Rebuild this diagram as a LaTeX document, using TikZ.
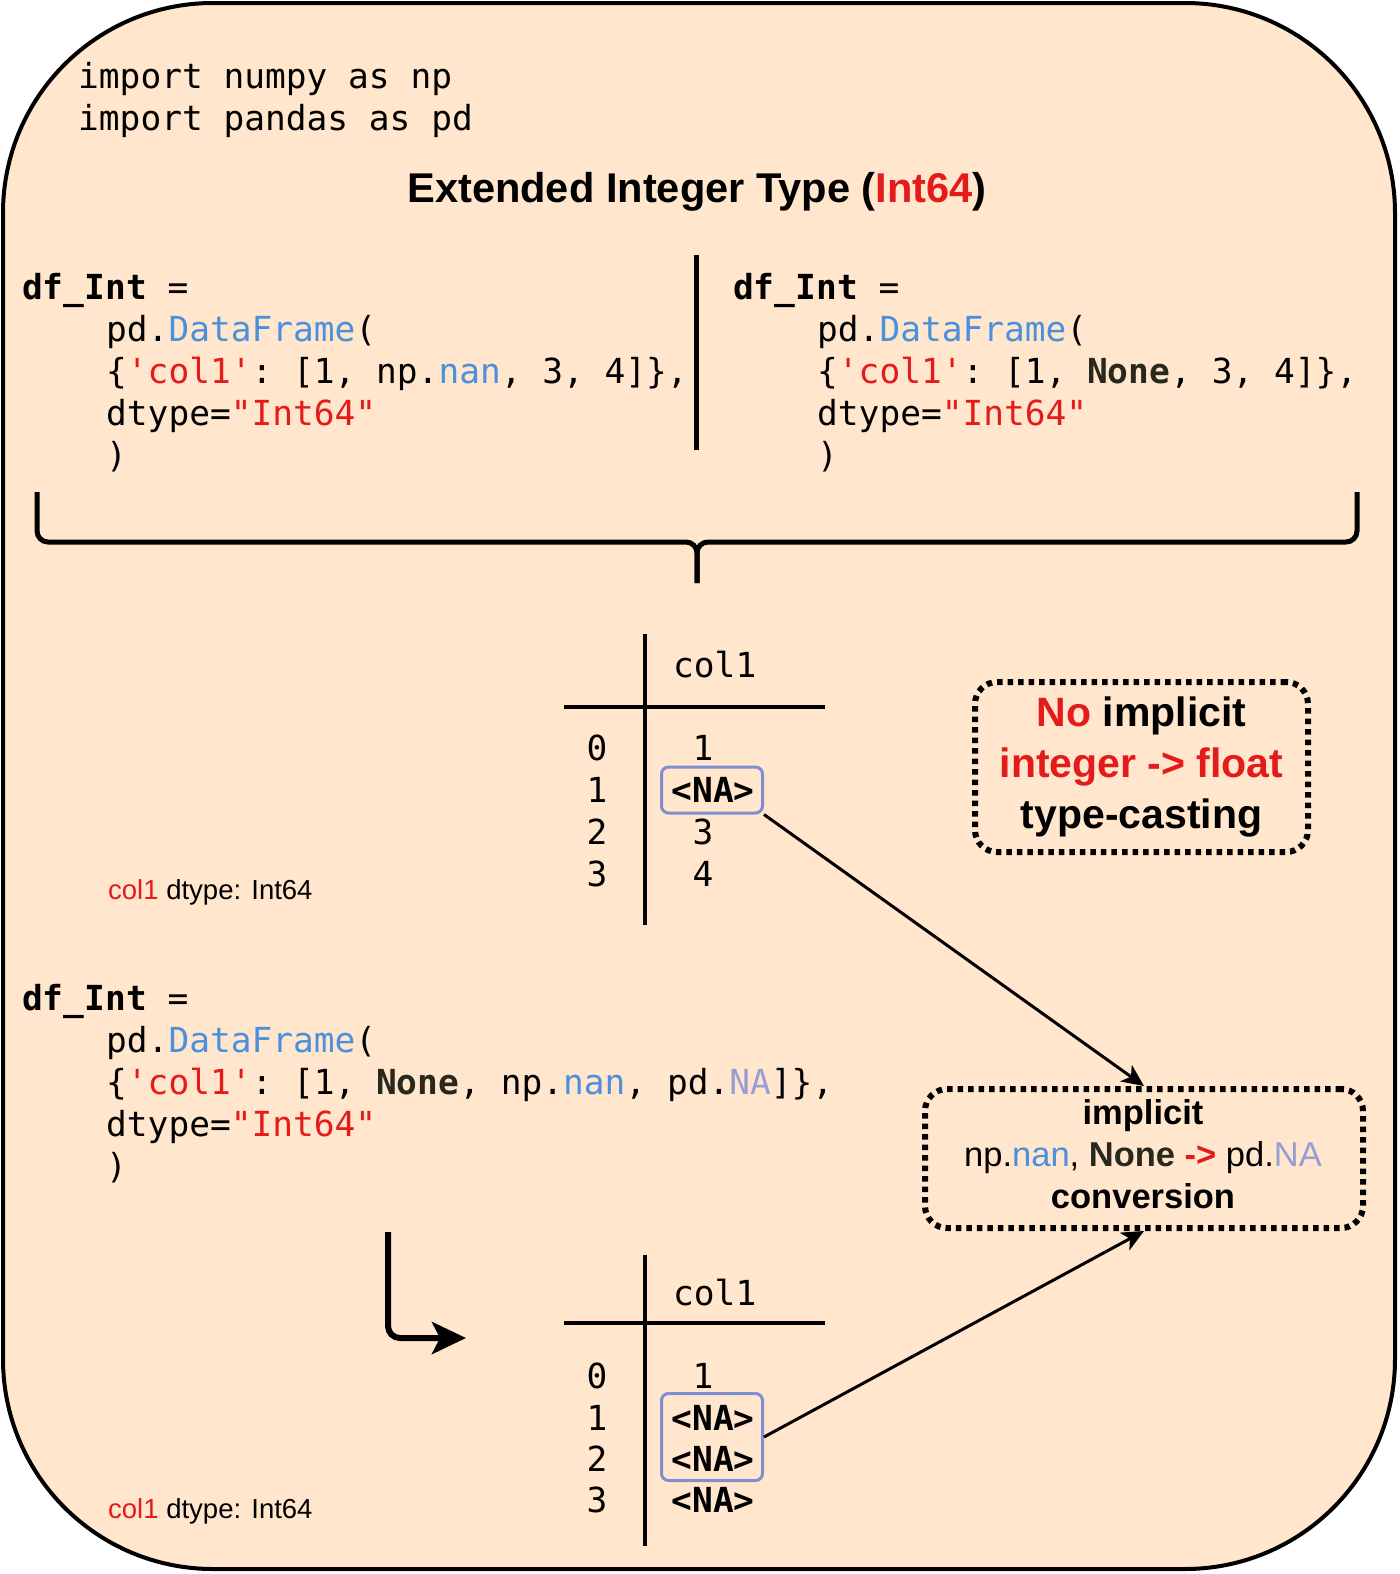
\documentclass[tikz,border=0pt]{standalone}
\usepackage{fontspec}
\setmainfont{Liberation Sans}
\setsansfont{Liberation Sans}
\setmonofont{DejaVu Sans Mono}
\usetikzlibrary{arrows.meta}
\definecolor{bgpeach}{RGB}{255,230,204}
\definecolor{cred}{RGB}{228,27,27}
\definecolor{cblue}{RGB}{74,144,220}
\definecolor{clav}{RGB}{150,158,212}
\definecolor{cnone}{RGB}{40,40,30}
\definecolor{nabord}{RGB}{128,142,210}
\newcommand\codefnt{\fontsize{34.5}{42}\selectfont\ttfamily}
\newcommand\titlefnt{\fontsize{41.6}{50}\selectfont\bfseries}
\newcommand\notefnt{\fontsize{41}{51}\selectfont\bfseries}
\newcommand\convfnt{\fontsize{34.5}{42}\selectfont}
\newcommand\dtfnt{\fontsize{27.5}{33}\selectfont}
\begin{document}
\begin{tikzpicture}[x=1pt,y=-1pt,
  code/.style={anchor=base west, inner sep=0pt, font=\codefnt},
  tcell/.style={anchor=base, inner sep=0pt, font=\codefnt},
  nacell/.style={anchor=base, inner sep=0pt, font=\codefnt\bfseries},
  nabox/.style={draw=nabord, line width=3pt, rounded corners=7pt, inner sep=0pt},
  dotbox/.style={draw=black, line width=6pt, dash pattern=on 5.5pt off 5pt, rounded corners=22pt, inner sep=0pt},
  tline/.style={line width=3.5pt},
  link/.style={line width=3pt, -{Stealth[length=22pt,width=20pt,inset=6pt]}},
  dtlabel/.style={anchor=base west, inner sep=0pt, font=\dtfnt}
]
\useasboundingbox (0,0) rectangle (1400,1574);
\draw[line width=4pt, fill=bgpeach, rounded corners=210pt] (3,3) rectangle (1395,1569);

% imports
\node[code] (imp1) at (78,88) {import numpy as np};
\node[code] (imp2) at (78,130) {import pandas as pd};

% title
\node[anchor=base, inner sep=0pt, font=\titlefnt] (title) at (697,202) {Extended Integer Type (\textcolor{cred}{Int64})};

% left code
\node[code] (l1) at (22,299) {\textbf{df\_Int} =};
\node[code] (l2) at (106,341) {pd.\textcolor{cblue}{DataFrame}(};
\node[code] (l3) at (106,383) {\{\textcolor{cred}{'col1'}: [1, np.\textcolor{cblue}{nan}, 3, 4]\},};
\node[code] (l4) at (106,425) {dtype=\textcolor{cred}{"Int64"}};
\node[code] (l5) at (106,467) {)};

% divider
\draw[line width=5pt] (696,255) -- (696,450);

% right code
\node[code] (r1) at (733,299) {\textbf{df\_Int} =};
\node[code] (r2) at (817,341) {pd.\textcolor{cblue}{DataFrame}(};
\node[code] (r3) at (817,383) {\{\textcolor{cred}{'col1'}: [1, \textbf{\textcolor{cnone}{None}}, 3, 4]\},};
\node[code] (r4) at (817,425) {dtype=\textcolor{cred}{"Int64"}};
\node[code] (r5) at (817,467) {)};

% brace
\draw[line width=5pt, rounded corners=11pt] (37,492) -- (37,542) -- (697,542) -- (697,583);
\draw[line width=5pt, rounded corners=11pt] (1357,492) -- (1357,542) -- (697,542) -- (697,583);

% table 1
\draw[tline] (645,634) -- (645,925);
\draw[tline] (564,707) -- (825,707);
\node[code] (h1) at (673,677) {col1};
\node[tcell] (i10) at (597,760) {0};
\node[tcell] (i11) at (597,802) {1};
\node[tcell] (i12) at (597,844) {2};
\node[tcell] (i13) at (597,886) {3};
\node[tcell] (v10) at (703,760) {1};
\node[nabox, minimum width=101pt, minimum height=46pt] (na1box) at (712,790) {};
\node[nacell] (v11) at (713,802) {<NA>};
\node[tcell] (v12) at (703,844) {3};
\node[tcell] (v13) at (703,886) {4};
\node[dtlabel] (dt1) at (108,899) {\textcolor{cred}{col1} dtype: Int64};

% note box
\node[dotbox, minimum width=333pt, minimum height=170pt, align=center, font=\notefnt] (nocast) at (1141.5,767)
  {\textcolor{cred}{No} implicit\\\textcolor{cred}{integer -> float}\\type-casting};

% bottom code
\node[code] (b1) at (22,1010) {\textbf{df\_Int} =};
\node[code] (b2) at (106,1052) {pd.\textcolor{cblue}{DataFrame}(};
\node[code] (b3) at (106,1094) {\{\textcolor{cred}{'col1'}: [1, \textbf{\textcolor{cnone}{None}}, np.\textcolor{cblue}{nan}, pd.\textcolor{clav}{NA}]\},};
\node[code] (b4) at (106,1136) {dtype=\textcolor{cred}{"Int64"}};
\node[code] (b5) at (106,1178) {)};

% conversion box
\node[dotbox, minimum width=438pt, minimum height=139pt] (conv) at (1144,1158.5) {};
\node[align=center, inner sep=0pt, font=\convfnt] (convtext) at (1143,1154.5)
  {\textbf{implicit}\\np.\textcolor{cblue}{nan}, \textbf{\textcolor{cnone}{None}} \textbf{\textcolor{cred}{->}} pd.\textcolor{clav}{NA}\\\textbf{conversion}};

% L arrow
\coordinate (lstart) at (388,1232);
\coordinate (lend) at (466,1338);
\draw[line width=6pt, rounded corners=12pt, -{Stealth[length=34pt,width=32pt,inset=8pt]}] (lstart) |- (lend);

% table 2
\draw[tline] (645,1255) -- (645,1546);
\draw[tline] (564,1323) -- (825,1323);
\node[code] (h2) at (673,1305) {col1};
\node[tcell] (i20) at (597,1388) {0};
\node[tcell] (i21) at (597,1430) {1};
\node[tcell] (i22) at (597,1471) {2};
\node[tcell] (i23) at (597,1512) {3};
\node[tcell] (v20) at (703,1388) {1};
\node[nabox, minimum width=101pt, minimum height=87pt] (na2box) at (712,1437) {};
\node[nacell] (v21) at (713,1430) {<NA>};
\node[nacell] (v22) at (713,1471) {<NA>};
\node[nacell] (v23) at (713,1512) {<NA>};
\node[dtlabel] (dt2) at (108,1518) {\textcolor{cred}{col1} dtype: Int64};

% connectors
\draw[link] (na1box.south east) -- (conv.north);
\draw[link] (na2box.east) -- (conv.south);
\end{tikzpicture}
\end{document}
